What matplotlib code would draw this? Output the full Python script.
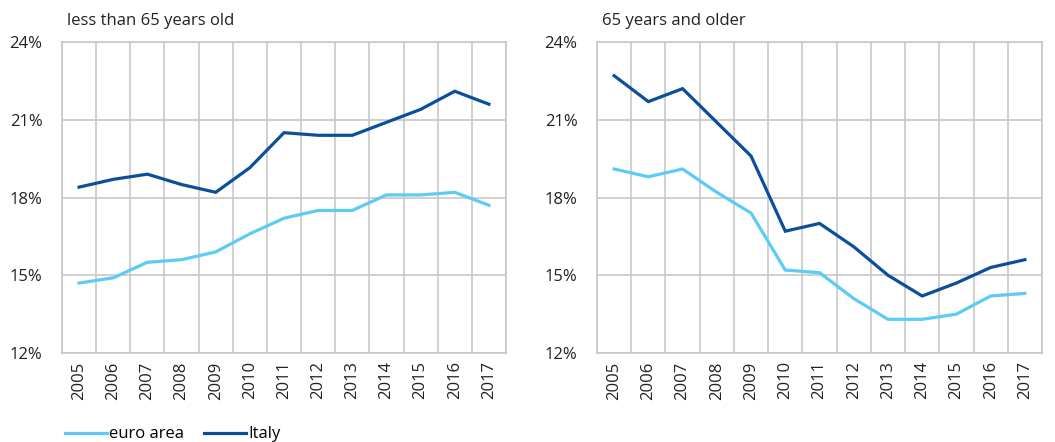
import matplotlib
matplotlib.use("Agg")
import matplotlib.pyplot as plt
import numpy as np
from matplotlib.lines import Line2D

years = [str(y) for y in range(2005, 2018)]

# less than 65 years old
under65_euro = [14.7, 14.9, 15.5, 15.6, 15.9, 16.6, 17.2, 17.5, 17.5, 18.1, 18.1, 18.2, 17.7]
under65_italy = [18.4, 18.7, 18.9, 18.5, 18.2, 19.15, 20.5, 20.4, 20.4, 20.9, 21.4, 22.1, 21.6]

# 65 years and older
over65_euro = [19.1, 18.8, 19.1, 18.2, 17.4, 15.2, 15.1, 14.1, 13.3, 13.3, 13.5, 14.2, 14.3]
over65_italy = [22.7, 21.7, 22.2, 20.9, 19.6, 16.7, 17.0, 16.1, 15.0, 14.2, 14.7, 15.3, 15.6]

titles = ["less than 65 years old", "65 years and older"]
yticks = [12, 15, 18, 21, 24]

EURO_COL = "#5ccbf5"
ITALY_COL = "#0b4f9b"
GRID_COL = "#c8c8c8"
TEXT_COL = "#222222"

plt.rcParams['font.family'] = ['Open Sans', 'DejaVu Sans']

fig = plt.figure(figsize=(10.55, 4.42), dpi=100)
W, H = 1055, 442
boxes = [(62, 42, 506, 353), (597, 42, 1042, 353)]
data = [(under65_euro, under65_italy), (over65_euro, over65_italy)]

x = np.arange(len(years))
for (l, t, r, b), (euro, italy), title in zip(boxes, data, titles):
    ax = fig.add_axes([l / W, 1 - b / H, (r - l) / W, (b - t) / H])
    ax.plot(x, euro, color=EURO_COL, lw=2.3, solid_joinstyle='miter')
    ax.plot(x, italy, color=ITALY_COL, lw=2.3, solid_joinstyle='miter')
    ax.set_xlim(-0.5, len(years) - 0.5)
    ax.set_ylim(12, 24)
    ax.set_yticks(yticks)
    ax.set_yticklabels([f"{v}%" for v in yticks], fontsize=12, color=TEXT_COL)
    ax.set_xticks(x)
    ax.set_xticklabels(years, rotation=90, fontsize=12, color=TEXT_COL)
    ax.grid(False)
    for v in yticks:
        ax.axhline(v, color=GRID_COL, lw=1.2, zorder=0)
    for v in np.arange(len(years) + 1) - 0.5:
        ax.axvline(v, color=GRID_COL, lw=1.2, zorder=0)
    ax.tick_params(axis='y', length=0, pad=14)
    ax.tick_params(axis='x', length=0, pad=6)
    for s in ax.spines.values():
        s.set_color(GRID_COL)
        s.set_linewidth(1.2)
    ax.set_title(title, loc='left', fontsize=12, color=TEXT_COL, pad=12, x=0.012)

handles = [Line2D([], [], color=EURO_COL, lw=2.3), Line2D([], [], color=ITALY_COL, lw=2.3)]
fig.legend(handles, ["euro area", "Italy"], loc='lower left', bbox_to_anchor=(50 / W, -0.035),
           ncol=2, frameon=False, fontsize=12, handlelength=2.5, handletextpad=0.15,
           columnspacing=1.2)

fig.savefig("out.png", dpi=100)
